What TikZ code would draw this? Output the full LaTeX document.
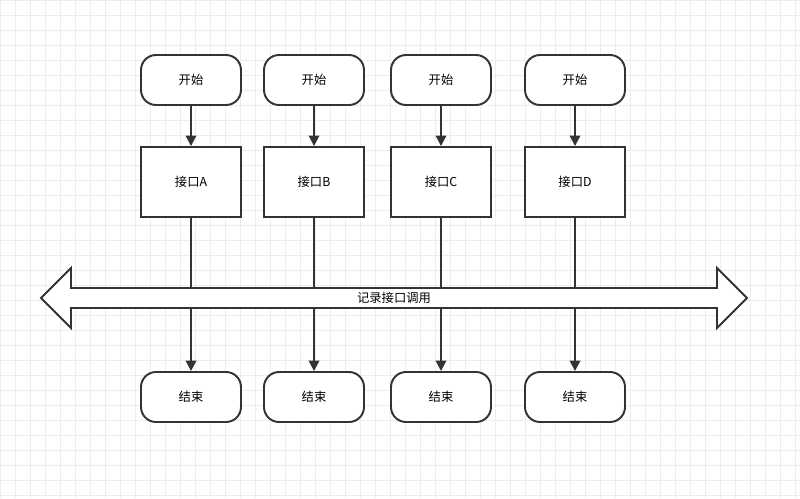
\documentclass[tikz,border=0pt]{standalone}
\usepackage{fontspec}
\setmainfont{Noto Sans CJK SC}
\usetikzlibrary{arrows.meta,positioning,calc}
\definecolor{ink}{HTML}{333333}
\definecolor{gridc}{HTML}{EDEDED}
\tikzset{
  term/.style={draw=ink,line width=1.1pt,rounded corners=0.3cm,minimum width=2cm,minimum height=1cm,font=\fontsize{7}{8}\selectfont,fill=white},
  proc/.style={draw=ink,line width=1.1pt,minimum width=2cm,minimum height=1.4cm,font=\fontsize{7}{8}\selectfont,fill=white},
  flow/.style={-{Triangle[length=6pt,width=6pt]},draw=ink,line width=1.1pt}
}
\begin{document}
\begin{tikzpicture}[x=0.02cm,y=-0.02cm]
  \useasboundingbox (0,0) rectangle (800,498);
  % grid
  \foreach \x in {0,15,...,795} \draw[gridc,line width=0.4pt] (\x,0) -- (\x,498);
  \foreach \y in {0,15,...,495} \draw[gridc,line width=0.4pt] (0,\y) -- (800,\y);

  % columns
  \foreach \n/\x/\t in {a/191/A,b/314/B,c/441/C,d/575/D} {
    \node[term] (s\n) at (\x,80) {开始};
    \node[proc] (p\n) at (\x,182) {接口\t};
    \node[term] (e\n) at (\x,397) {结束};
    \draw[flow] (s\n) -- (p\n);
    \draw[flow] (p\n) -- (e\n);
  }

  % double arrow
  \draw[ink,line width=1.1pt,fill=white] (41,298) -- (71,268) -- (71,288) -- (717,288) -- (717,268)
    -- (747,298) -- (717,328) -- (717,308) -- (71,308) -- (71,328) -- cycle;
  \node[font=\fontsize{7}{8}\selectfont] (log) at (394,298) {记录接口调用};
\end{tikzpicture}
\end{document}
